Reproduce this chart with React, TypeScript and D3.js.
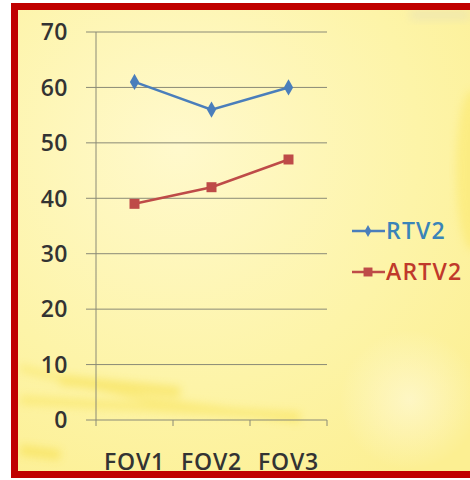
import React from "react";
import * as d3 from "d3";

const categories = ["FOV1", "FOV2", "FOV3"];
const rtv2 = [61, 56, 60];
const artv2 = [39, 42, 47];
const yTicks = [0, 10, 20, 30, 40, 50, 60, 70];
const seriesNames = ["RTV2", "ARTV2"];

const W = 470;
const H = 480;
const plot = { left: 96, right: 327, top: 32, bottom: 420 };
const FONT = "'Open Sans', Lato, sans-serif";

export default function App() {
  const x = d3
    .scaleBand<string>()
    .domain(categories)
    .range([plot.left, plot.right]);
  const y = d3.scaleLinear().domain([0, 70]).range([plot.bottom, plot.top]);
  const line = d3
    .line<number>()
    .x((_, i) => (x(categories[i]) as number) + x.bandwidth() / 2)
    .y((d) => y(d));

  const blue = "#4a7ebb";
  const red = "#be4b48";
  const diamond = d3.symbol(d3.symbolDiamond, 75)() as string;
  const square = d3.symbol(d3.symbolSquare, 100)() as string;

  const series = [
    { name: seriesNames[0], values: rtv2, color: blue, marker: diamond, text: "#3a84b8" },
    { name: seriesNames[1], values: artv2, color: red, marker: square, text: "#c0392b" },
  ];

  return (
    <div style={{ position: "absolute", left: 0, top: 0 }}>
      <svg width={W} height={H} style={{ display: "block" }}>
        <defs>
          <radialGradient id="bg" cx="0.35" cy="0.3" r="0.85">
            <stop offset="0" stopColor="#fff9cc" />
            <stop offset="0.6" stopColor="#fdf4a8" />
            <stop offset="1" stopColor="#fcef92" />
          </radialGradient>
          <radialGradient id="glow" cx="0.5" cy="0.5" r="0.5">
            <stop offset="0" stopColor="#fffae0" stopOpacity="0.6" />
            <stop offset="1" stopColor="#fffae0" stopOpacity="0" />
          </radialGradient>
          <filter id="soft" x="-20%" y="-50%" width="140%" height="200%">
            <feGaussianBlur stdDeviation="4" />
          </filter>
        </defs>
        <rect x={0} y={0} width={W} height={H} fill="#ffffff" />
        <rect x={14} y={6} width={W} height={469} fill="url(#bg)" />
        <ellipse cx={410} cy={400} rx={70} ry={70} fill="url(#glow)" />
        <ellipse cx={472} cy={170} rx={16} ry={80} fill="#fae456" opacity={0.4} filter="url(#soft)" />
        {/* soft streaks near the bottom */}
        <g filter="url(#soft)" opacity={0.45}>
          <path d="M20,368 L150,400 L300,420" stroke="#f7e04a" strokeWidth={6} fill="none" />
          <path d="M20,400 L200,410 L300,416" stroke="#f7e04a" strokeWidth={8} fill="none" />
          <path d="M60,380 L180,392" stroke="#f4d930" strokeWidth={10} fill="none" />
          <path d="M20,450 L60,455" stroke="#f4d930" strokeWidth={10} fill="none" />
        </g>
        <rect x={410} y={10} width={60} height={10} fill="#e8e2b8" opacity={0.6} filter="url(#soft)" />

        {/* gridlines */}
        {yTicks.map((t) => (
          <line
            key={t}
            x1={86}
            x2={plot.right}
            y1={y(t)}
            y2={y(t)}
            stroke="#8a8a76"
            strokeWidth={1}
          />
        ))}
        {/* axes */}
        <line x1={plot.left} x2={plot.left} y1={plot.top} y2={plot.bottom + 6} stroke="#8a8a76" />
        {x.domain().map((c) => (
          <line
            key={c}
            x1={(x(c) as number) + x.bandwidth()}
            x2={(x(c) as number) + x.bandwidth()}
            y1={plot.bottom}
            y2={plot.bottom + 6}
            stroke="#8a8a76"
          />
        ))}
        {yTicks.map((t) => (
          <text
            key={t}
            x={68}
            y={y(t)}
            dy="0.36em"
            textAnchor="end"
            fontFamily={FONT}
            fontSize={23}
            fontWeight={600}
            letterSpacing={0.5}
            fill="#333333"
          >
            {t}
          </text>
        ))}
        {categories.map((c) => (
          <text
            key={c}
            x={(x(c) as number) + x.bandwidth() / 2}
            y={470}
            textAnchor="middle"
            fontFamily={FONT}
            fontSize={23}
            fontWeight={600}
            letterSpacing={0.8}
            fill="#333333"
          >
            {c}
          </text>
        ))}

        {series.map((s) => (
          <g key={s.name}>
            <path d={line(s.values) as string} fill="none" stroke={s.color} strokeWidth={2.5} />
            {s.values.map((v, i) => (
              <path
                key={i}
                d={s.marker}
                transform={`translate(${(x(categories[i]) as number) + x.bandwidth() / 2},${y(v)})`}
                fill={s.color}
              />
            ))}
          </g>
        ))}

        {/* legend */}
        {series.map((s, i) => {
          const ly = 231 + i * 41;
          return (
            <g key={s.name}>
              <line x1={352} x2={385} y1={ly} y2={ly} stroke={s.color} strokeWidth={2.5} />
              <path
                d={i === 0 ? (d3.symbol(d3.symbolDiamond, 40)() as string) : (d3.symbol(d3.symbolSquare, 80)() as string)}
                transform={`translate(368,${ly})`}
                fill={s.color}
              />
              <text x={386} y={ly} dy="0.36em" fontFamily={FONT} fontSize={23} fontWeight={600} letterSpacing={1.2} fill={s.text}>
                {s.name}
              </text>
            </g>
          );
        })}

        {/* frame */}
        <rect x={14.5} y={6.5} width={W} height={468} fill="none" stroke="#c00000" strokeWidth={7} />
      </svg>
    </div>
  );
}
